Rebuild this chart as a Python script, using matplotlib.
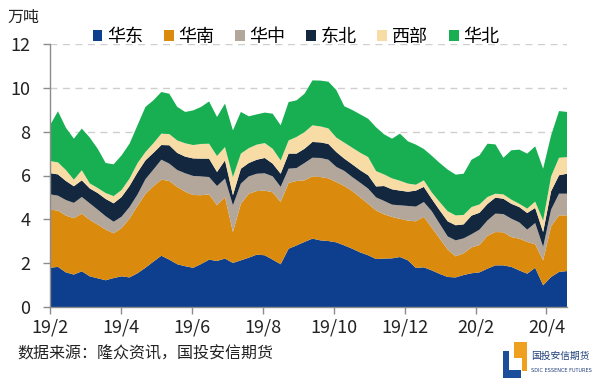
import matplotlib
matplotlib.use('Agg')
import matplotlib.pyplot as plt
import numpy as np
from matplotlib.patches import Polygon, Patch

plt.rcParams['font.family'] = ['Noto Sans CJK SC', 'DejaVu Sans']

series_names = ['华东', '华南', '华中', '东北', '西部', '华北']
colors = ['#0E3F8E', '#DA8A0C', '#B3A79C', '#13283F', '#F8DCA6', '#17AF52']

huadong = [1.79, 1.83, 1.58, 1.48, 1.63, 1.40, 1.31, 1.22, 1.32, 1.40, 1.35, 1.54, 1.79, 2.07, 2.34, 2.16,
           1.95, 1.86, 1.79, 1.96, 2.16, 2.10, 2.21, 2.01, 2.13, 2.25, 2.39, 2.36, 2.16, 1.95, 2.66, 2.81,
           2.97, 3.12, 3.04, 3.01, 2.95, 2.81, 2.66, 2.49, 2.36, 2.19, 2.21, 2.22, 2.28, 2.13, 1.78, 1.81,
           1.67, 1.51, 1.37, 1.35, 1.46, 1.54, 1.58, 1.75, 1.90, 1.90, 1.83, 1.67, 1.52, 1.79, 0.99, 1.37,
           1.60, 1.64]
huanan = [2.65, 2.57, 2.59, 2.57, 2.63, 2.57, 2.45, 2.31, 2.04, 2.20, 2.68, 3.07, 3.37, 3.44, 3.47, 3.59,
          3.53, 3.40, 3.32, 3.14, 2.98, 2.54, 2.81, 1.41, 2.58, 2.92, 2.90, 2.95, 3.07, 2.84, 3.00, 2.94,
          2.81, 2.84, 2.89, 2.86, 2.75, 2.71, 2.63, 2.51, 2.35, 2.21, 2.02, 1.89, 1.74, 1.81, 2.13, 2.30,
          1.95, 1.61, 1.25, 0.96, 0.99, 1.18, 1.25, 1.50, 1.52, 1.51, 1.36, 1.45, 1.45, 1.07, 1.14, 2.31,
          2.58, 2.54]
huazhong = [0.70, 0.68, 0.71, 0.70, 0.76, 0.76, 0.68, 0.61, 0.53, 0.52, 0.53, 0.52, 0.67, 0.76, 0.91, 0.79,
            0.77, 0.84, 0.87, 0.86, 0.79, 0.88, 0.84, 1.22, 0.92, 0.79, 0.79, 0.79, 0.73, 0.69, 0.65, 0.59,
            0.79, 0.85, 0.87, 0.85, 0.69, 0.69, 0.64, 0.67, 0.69, 0.60, 0.61, 0.56, 0.62, 0.67, 0.67, 0.68,
            0.75, 0.67, 0.60, 0.73, 0.68, 0.60, 0.70, 0.70, 0.84, 0.83, 0.84, 0.74, 0.56, 0.97, 0.61, 0.76,
            0.99, 0.99]
dongbei = [0.97, 0.97, 0.87, 0.76, 0.76, 0.68, 0.76, 0.79, 0.84, 0.90, 0.96, 1.01, 0.86, 0.76, 0.67, 0.84,
           0.78, 0.76, 0.80, 0.81, 0.84, 0.64, 0.83, 0.46, 0.68, 0.61, 0.64, 0.70, 0.58, 0.60, 0.69, 0.66,
           0.65, 0.72, 0.71, 0.72, 0.68, 0.56, 0.58, 0.57, 0.61, 0.50, 0.68, 0.70, 0.67, 0.65, 0.73, 0.69,
           0.56, 0.62, 0.69, 0.69, 0.64, 0.85, 0.77, 0.75, 0.73, 0.70, 0.68, 0.70, 0.76, 0.69, 0.68, 0.84,
           0.84, 0.91]
xibu = [0.55, 0.55, 0.50, 0.30, 0.46, 0.23, 0.23, 0.27, 0.33, 0.32, 0.34, 0.42, 0.38, 0.44, 0.52, 0.51,
        0.57, 0.61, 0.61, 0.67, 0.68, 0.73, 0.61, 0.83, 0.69, 0.68, 0.69, 0.68, 0.68, 0.61, 0.60, 0.76,
        0.76, 0.76, 0.73, 0.71, 0.66, 0.73, 0.76, 0.80, 0.83, 0.70, 0.53, 0.50, 0.45, 0.37, 0.27, 0.30,
        0.30, 0.38, 0.46, 0.45, 0.43, 0.39, 0.38, 0.32, 0.18, 0.20, 0.19, 0.15, 0.20, 0.29, 0.53, 0.68,
        0.80, 0.76]
huabei = [1.63, 2.33, 1.93, 1.87, 1.90, 2.09, 1.79, 1.37, 1.45, 1.58, 1.59, 1.73, 2.06, 1.96, 1.90, 1.84,
          1.53, 1.43, 1.58, 1.69, 1.93, 1.78, 1.98, 2.13, 1.90, 1.45, 1.38, 1.39, 1.60, 1.60, 1.75, 1.67,
          1.75, 2.05, 2.09, 2.13, 2.17, 1.66, 1.72, 1.75, 1.75, 2.00, 1.83, 1.81, 2.15, 1.93, 1.83, 1.43,
          1.67, 1.78, 1.90, 1.86, 1.88, 2.16, 2.24, 2.43, 2.25, 1.67, 2.25, 2.47, 2.51, 2.52, 2.36, 1.87,
          2.13, 2.06]

tick_labels = ['19/2', '19/4', '19/6', '19/8', '19/10', '19/12', '20/2', '20/4']

fig = plt.figure(figsize=(6, 3.85), dpi=100)
ax = fig.add_axes([50 / 600, 1 - 307 / 385, 517 / 600, 263 / 385])

x = np.arange(len(huadong))
ax.stackplot(x, huadong, huanan, huazhong, dongbei, xibu, huabei,
             colors=colors, labels=series_names, linewidth=0)

ax.set_xlim(0, len(x) - 1)
ax.set_ylim(0, 12)
ax.set_yticks(range(0, 13, 2))
ax.yaxis.grid(True, linestyle=(0, (5, 4)), color='#cfcfcf', linewidth=1)
ax.set_axisbelow(True)

tick_step = (len(x) - 1) / 7.29
ax.set_xticks(np.arange(len(tick_labels)) * tick_step)
ax.set_xticklabels(tick_labels)

for s in ['top', 'right']:
    ax.spines[s].set_visible(False)
for s in ['left', 'bottom']:
    ax.spines[s].set_color('#8c8c8c')
    ax.spines[s].set_linewidth(1)
ax.tick_params(axis='y', direction='out', length=5, width=1, color='#8c8c8c', pad=9,
               labelsize=13, labelcolor='#222222')
ax.tick_params(axis='x', direction='out', length=5, width=1, color='#8c8c8c', pad=3,
               labelsize=13, labelcolor='#222222')

handles = [Patch(facecolor=c, edgecolor='none') for c in colors]
fig.legend(handles, series_names, loc='center', bbox_to_anchor=(0.493, 0.904), ncol=6,
           frameon=False, fontsize=13, handlelength=0.55, handleheight=0.55,
           handletextpad=0.25, columnspacing=1.15, borderpad=0)

fig.text(7 / 600, 1 - 17 / 385, '万吨', fontsize=11.5, va='center', ha='left', color='#222222')
fig.text(17 / 600, 1 - 354 / 385, '数据来源：隆众资讯，国投安信期货', fontsize=11.5,
         va='center', ha='left', color='#222222')

# logo
lax = fig.add_axes([503 / 600, 1 - 378 / 385, 24 / 600, 36 / 385])
lax.set_xlim(0, 1)
lax.set_ylim(0, 1)
lax.axis('off')
lax.add_patch(Polygon([[0.45, 0.55], [0.45, 1.0], [1.0, 1.0], [1.0, 0.2], [0.8, 0.2], [0.8, 0.55]],
                      closed=True, facecolor='#F0A020', edgecolor='none'))
lax.add_patch(Polygon([[0.0, 0.0], [0.75, 0.0], [0.75, 0.22], [0.25, 0.22], [0.25, 0.75], [0.0, 0.75]],
                      closed=True, facecolor='#1B4E9B', edgecolor='none'))
fig.text(531 / 600, 1 - 356 / 385, '国投安信期货', fontsize=7, va='center', ha='left', color='#1f3f7a')
fig.text(531 / 600, 1 - 370 / 385, 'SDIC ESSENCE FUTURES', fontsize=3.6, va='center', ha='left',
         color='#1f3f7a', family=['DejaVu Sans Condensed', 'DejaVu Sans'])

fig.savefig('out.png', dpi=100)
